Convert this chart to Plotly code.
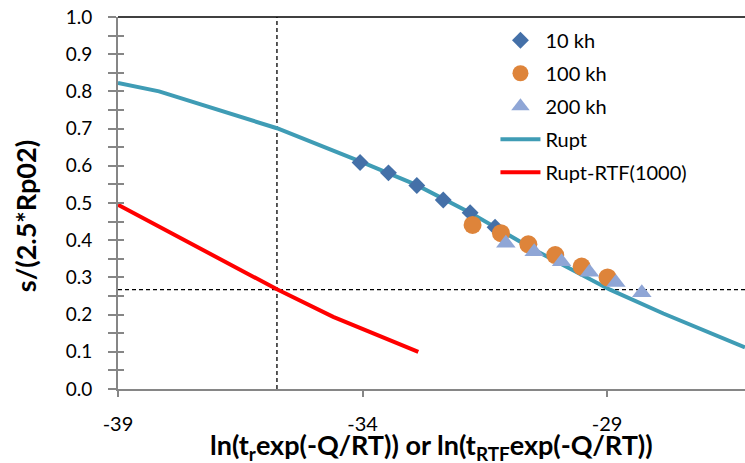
import plotly.graph_objects as go

# Data
x_10kh = [-34.05, -33.47, -32.89, -32.35, -31.80, -31.29]
y_10kh = [0.609, 0.581, 0.547, 0.508, 0.474, 0.435]

x_100kh = [-31.75, -31.17, -30.61, -30.06, -29.52, -28.99]
y_100kh = [0.441, 0.419, 0.389, 0.360, 0.329, 0.300]

x_200kh = [-31.07, -30.49, -29.93, -29.36, -28.82, -28.29]
y_200kh = [0.392, 0.369, 0.342, 0.314, 0.286, 0.259]

x_rupt = [-39.0, -38.16, -35.75, -34.05, -32.89, -31.80, -30.5, -28.94, -27.85, -26.18]
y_rupt = [0.823, 0.800, 0.701, 0.612, 0.548, 0.474, 0.375, 0.267, 0.203, 0.112]

x_rtf = [-39.0, -35.75, -34.6, -32.86]
y_rtf = [0.495, 0.268, 0.194, 0.100]

x_ref = -35.75
y_ref = 0.267

x_ticks = [-39, -34, -29]
x_range = [-39, -26.18]
y_range = [0, 1]

FONT = "Lato"
fig = go.Figure()

fig.add_trace(go.Scatter(x=x_rupt, y=y_rupt, mode="lines", name="Rupt", legendgroup="d",
                         line=dict(color="#3f9cb5", width=4), legendrank=4))
fig.add_trace(go.Scatter(x=x_rtf, y=y_rtf, mode="lines", name="Rupt-RTF(1000)", legendgroup="e",
                         line=dict(color="#ff0000", width=4), legendrank=5))
fig.add_trace(go.Scatter(x=x_10kh, y=y_10kh, mode="markers", name="10 kh", legendgroup="a",
                         marker=dict(symbol="diamond", size=13, color="#4470a8"), legendrank=1))
fig.add_trace(go.Scatter(x=x_100kh, y=y_100kh, mode="markers", name="100 kh", legendgroup="b",
                         marker=dict(symbol="circle", size=18, color="#de843a"), legendrank=2))
fig.add_trace(go.Scatter(x=x_200kh, y=y_200kh, mode="markers", name="200 kh", legendgroup="c",
                         marker=dict(symbol="triangle-up", size=17, color="#8fa6d6"), legendrank=3))
# empty helper trace so the inside-tick overlay axes get drawn
fig.add_trace(go.Scatter(x=[], y=[], xaxis="x2", yaxis="y2", mode="markers",
                         showlegend=False, hoverinfo="skip"))

# reference dashed lines
fig.add_shape(type="line", xref="x", yref="paper", x0=x_ref, x1=x_ref, y0=0, y1=1,
              line=dict(color="black", width=1.3, dash="4px,3px"), layer="below")
fig.add_shape(type="line", xref="paper", yref="y", x0=0, x1=1, y0=y_ref, y1=y_ref,
              line=dict(color="black", width=1.3, dash="4px,3px"), layer="below")
# top border
fig.add_shape(type="line", xref="paper", yref="paper", x0=0, x1=1, y0=1, y1=1,
              line=dict(color="black", width=1.5))

axis_gray = "#868686"
fig.update_layout(
    width=745, height=463,
    margin=dict(l=118, r=0, t=17, b=74),
    paper_bgcolor="white", plot_bgcolor="white",
    font=dict(family=FONT, size=19, color="black"),
    showlegend=True,
    legend=dict(x=0.602, y=0.99, xanchor="left", yanchor="top",
                bgcolor="rgba(0,0,0,0)", font=dict(size=20),
                tracegroupgap=4, itemwidth=40),
    xaxis=dict(range=x_range, tickmode="array", tickvals=x_ticks,
               ticktext=[str(v) for v in x_ticks],
               tickfont=dict(family=FONT, size=20, color="black"),
               showgrid=False, zeroline=False, showline=True,
               linecolor=axis_gray, linewidth=2,
               ticks="outside", ticklen=6, tickcolor=axis_gray, tickwidth=1.5,
               ticklabelstandoff=10),
    xaxis2=dict(range=x_range, overlaying="x", anchor="y", side="bottom",
                tickmode="array", tickvals=x_ticks, showticklabels=False,
                showgrid=False, zeroline=False, showline=False,
                ticks="", ticklen=0),
    yaxis=dict(range=y_range, dtick=0.1, tickformat=".1f",
               showgrid=False, zeroline=False, showline=True,
               linecolor=axis_gray, linewidth=2,
               ticks="outside", ticklen=8, tickcolor=axis_gray, tickwidth=1.5,
               minor=dict(dtick=0.05, ticks="outside", ticklen=8,
                          tickcolor=axis_gray, tickwidth=1.5),
               ticklabelstandoff=12),
    yaxis2=dict(range=y_range, overlaying="y", anchor="x2", side="left",
                dtick=0.05, showticklabels=False, showgrid=False,
                zeroline=False, showline=False,
                ticks="inside", ticklen=6, tickcolor=axis_gray, tickwidth=1.5),
)

fig.add_annotation(xref="paper", yref="paper", x=0.5, y=-0.154, yanchor="middle",
                   text="<b>ln(t<sub>r</sub>exp(-Q/RT)) or ln(t<sub>RTF</sub>exp(-Q/RT))</b>",
                   showarrow=False, font=dict(family=FONT, size=27, color="black"))
fig.add_annotation(xref="paper", yref="paper", x=-0.148, y=0.465, xanchor="center",
                   text="<b>s/(2.5*Rp02)</b>", textangle=-90,
                   showarrow=False, font=dict(family=FONT, size=27, color="black"))

fig.write_html("out.html")
